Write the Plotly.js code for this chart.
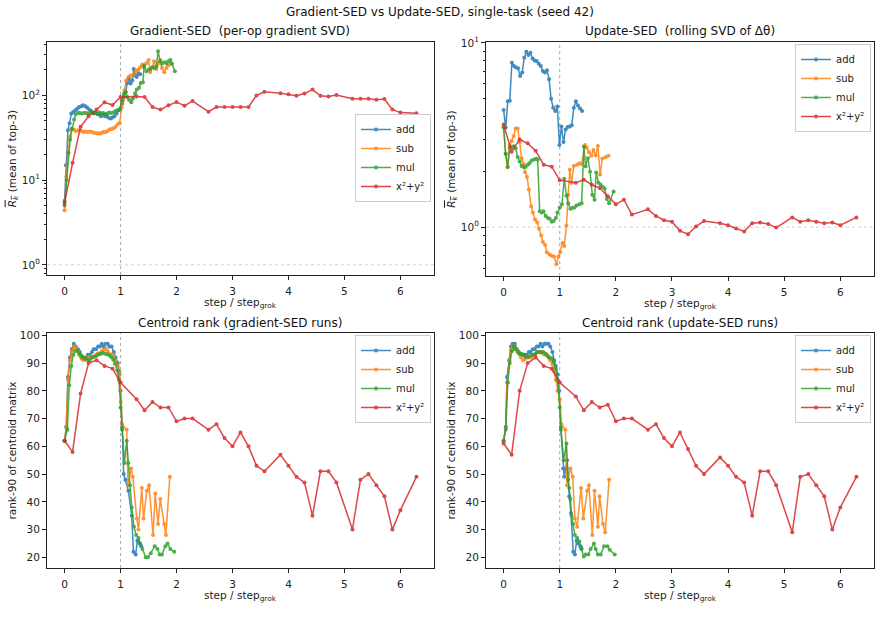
<!DOCTYPE html>
<html><head><meta charset="utf-8">
<script src="https://cdn.plot.ly/plotly-3.0.1.min.js"></script>
<style>body{margin:0;padding:0;background:#fff}#plot{width:881px;height:634px}</style>
</head><body><div id="plot"></div>
<script>
// ---------- data ----------
const SERIES_NAMES = ['add', 'sub', 'mul', 'x²+y²'];

// x²+y² (shared x for all panels)
const RED_X = [0,0.143,0.286,0.429,0.571,0.714,0.857,1.0,1.286,1.429,1.571,1.714,1.857,2.0,2.143,2.286,2.571,2.714,2.857,3.0,3.143,3.286,3.429,3.571,3.857,4.0,4.143,4.286,4.429,4.571,4.714,4.857,5.143,5.286,5.429,5.571,5.714,5.857,6.0,6.286];
const RED_GSED = [5.35,16.0,42.5,56.7,67.9,82.8,76.9,95.6,97.3,95.6,72.9,67.9,76.3,83.5,75.6,85.8,64.3,72.9,72.9,72.9,72.9,72.9,100,110,106,103,99,105,117,99,97,101,91.4,91.4,91.4,89,90.6,67.9,62.6,61.5];
const RED_USED = [3.61,2.57,2.99,2.85,2.6,2.18,2.13,1.80,1.74,1.81,1.70,1.63,1.47,1.33,1.41,1.17,1.25,1.15,1.09,1.07,0.955,0.916,1.01,1.08,1.05,1.025,0.984,0.948,1.05,1.06,1.04,0.995,1.13,1.07,1.09,1.07,1.05,1.06,1.025,1.13];
const RED_GRANK = [62,58,79,90,91,89,88,83,77,73,76,74,74,69,70,70,66,68,63,60,65,60,53,51,57,53,49,47,35,51,51,47,30,48,50,46,42,30,37,49];
const RED_URANK = [61,57,80,90,92,89,88,83,78,73,76,74,75,69,70,70,66,68,63,60,65,59,53,50,56,53,49,47,35,51,51,46,29,49,50,46,42,30,38,49];

// Panel 1: Gradient-SED
const ADD_GSED_X = [0,.024,.06,.09,.12,.155,.19,.226,.26,.3,.33,.37,.4,.44,.475,.51,.55,.58,.62,.65,.69,.72,.75,.78,.82,.855,.89,.93,.96,1.0,1.03,1.06,1.09,1.12,1.15,1.18,1.21,1.235,1.265,1.29,1.32,1.35];
const ADD_GSED_Y = [5.7,15,38.8,47,61,63.7,66.7,69.6,72.9,74.3,76.4,74.3,71.7,67.9,65.5,62,62,61,59.8,56.6,59.8,56.6,58,54.7,53.2,54.7,56.6,61,66.7,70,80,95,110,140,158,138,150,205,172,165,183,177];
const SUB_GSED_X = [0,.03,.06,.095,.13,.166,.2,.24,.27,.31,.34,.38,.415,.45,.49,.52,.56,.59,.63,.66,.7,.735,.77,.8,.84,.875,.91,.95,.985,1.02,1.045,1.07,1.1,1.14,1.175,1.21,1.25,1.28,1.32,1.35,1.39,1.42,1.46,1.5,1.53,1.57,1.6,1.64,1.67,1.71,1.74,1.78,1.82,1.85,1.89];
const SUB_GSED_Y = [4.4,11,20.6,32.4,40.6,39.5,38,38.8,38.5,38,37,37.5,37,37.5,37,36.1,36,35.5,35.5,36,37,37,38,39.5,40,41,42.5,45.7,47.3,73,87,115,150,164,172,170,180,196,200,215,231,215,240,262,188,215,253,205,236,262,211,188,211,225,236];
const MUL_GSED_X = [0,.036,.07,.1,.13,.17,.2,.24,.27,.31,.34,.38,.41,.45,.48,.52,.55,.59,.62,.66,.69,.73,.76,.8,.83,.87,.91,.95,.985,1.02,1.06,1.09,1.12,1.15,1.19,1.22,1.26,1.29,1.33,1.36,1.4,1.42,1.46,1.5,1.53,1.57,1.6,1.64,1.67,1.71,1.74,1.78,1.82,1.85,1.89,1.92,1.97];
const MUL_GSED_Y = [5,10,21,30,40,51.8,59.8,62,62,61,62,62,61,62,64,61,62,60,63,61,62,60,61,63,62,63,65.5,66.7,68,87,104,109,96,89,83,91,106,117,123,140,143,224,193,200,205,215,211,219,331,253,236,246,240,253,262,236,193];

// Panel 2: Update-SED
const ADD_USED_X = [0,.037,.074,.11,.147,.184,.221,.258,.294,.331,.368,.405,.442,.478,.515,.552,.589,.626,.662,.699,.736,.773,.81,.846,.883,.92,.957,.994,1.03,1.067,1.104,1.141,1.178,1.214,1.251,1.288,1.325,1.362,1.398];
const ADD_USED_Y = [4.33,3.47,4.82,4.86,7.81,7.5,7.35,7.28,6.62,6.9,8.3,8.95,8.59,8.84,8.24,8.04,7.97,7.71,7.5,7.05,6.9,7.1,6.35,4.97,4.45,4.27,4.52,2.79,3.52,2.9,3.39,3.5,3.52,3.57,4.45,4.82,4.57,4.4,4.27];
const SUB_USED_X = [0,.036,.071,.107,.143,.179,.214,.25,.286,.321,.357,.38,.417,.45,.49,.52,.56,.6,.63,.67,.7,.74,.77,.82,.857,.9,.94,.976,1.01,1.05,1.08,1.12,1.15,1.18,1.21,1.25,1.31,1.35,1.39,1.45,1.48,1.52,1.56,1.6,1.64,1.68,1.72,1.76,1.82,1.87];
const SUB_USED_Y = [3.5,2.5,2.12,2.79,2.94,3.12,3.43,3.43,2.9,2.37,2.2,1.99,1.88,1.6,1.3,1.2,1.1,1.06,0.98,0.9,0.83,0.8,0.73,0.71,0.70,0.69,0.63,0.69,0.73,0.82,0.79,1.02,1.5,2.05,1.74,2.15,2.18,2.22,2.2,2.79,2.7,2.55,2.44,2.62,2.45,2.76,1.93,2.36,2.4,2.44];
const MUL_USED_X = [0,.036,.071,.107,.143,.179,.214,.25,.286,.32,.357,.39,.43,.46,.5,.54,.58,.607,.643,.68,.71,.75,.79,.82,.86,.89,.93,.96,1.0,1.04,1.08,1.12,1.15,1.19,1.22,1.26,1.3,1.35,1.39,1.43,1.46,1.5,1.54,1.58,1.62,1.65,1.69,1.73,1.77,1.8,1.84,1.88,1.96];
const MUL_USED_Y = [3.47,2.5,2.12,2.7,2.72,2.75,2.68,2.4,2.27,2.15,2.12,2.12,2.18,2.22,2.3,2.33,2.35,2.33,1.22,1.2,1.22,1.15,1.12,1.11,1.07,1.08,1.12,1.2,1.28,1.33,1.83,1.48,1.35,1.26,1.27,1.28,1.31,1.33,1.35,2.73,2.14,2.37,2.0,1.5,1.41,1.98,1.74,1.7,1.65,1.62,1.42,1.35,1.56];

// Panel 3: Centroid rank (gradient-SED runs)
const ADD_GRANK_X = [0,.03,.06,.095,.13,.165,.2,.24,.27,.3,.34,.38,.415,.45,.49,.52,.56,.6,.63,.665,.7,.735,.77,.8,.84,.88,.91,.95,.975,1.0,1.03,1.056,1.086,1.14,1.2,1.23,1.27,1.3,1.34,1.37];
const ADD_GRANK_Y = [62,67,85,92,95,97,96,95,94,92,92,92,93,93,94,95,95,96,96,97,96,97,97,96,96,94,92,90,87,80,67,50,48,44,35,22,21,26,25,24];
const SUB_GRANK_X = [0,.03,.06,.095,.13,.165,.2,.24,.27,.31,.34,.38,.415,.45,.49,.52,.56,.59,.63,.665,.7,.735,.77,.8,.84,.875,.91,.95,.985,1.005,1.027,1.11,1.133,1.187,1.22,1.29,1.32,1.38,1.41,1.47,1.51,1.58,1.62,1.67,1.71,1.78,1.81,1.88];
const SUB_GRANK_Y = [62,67,84,91,94.4,96,95.8,94.4,92.8,91.6,91,91.6,92,92,92.2,92.4,92.8,93.4,93.6,94.4,94.8,95.2,94.4,93.2,93.2,92.4,91,89,86,76,68,66,46,52,49,34,30,45,34,44,46,28,43,32,41,32,28,49];
const MUL_GRANK_X = [0,.05,.083,.12,.155,.19,.226,.26,.3,.33,.37,.4,.44,.47,.51,.55,.58,.62,.65,.69,.72,.76,.8,.83,.87,.9,.94,.97,1.0,1.03,1.07,1.11,1.14,1.17,1.2,1.24,1.28,1.32,1.35,1.39,1.45,1.49,1.54,1.61,1.66,1.7,1.74,1.8,1.84,1.89,1.96];
const MUL_GRANK_Y = [62,66,82,89,93,94.4,94.4,93.4,92.8,92,91.6,91.2,91,91.6,92.2,92.4,92.8,93.2,93.4,93.6,93.4,93.2,92.8,92.2,91.2,89.8,87.4,84,74,66,54,62,54,46,38,31,28,27,25,23,20,20,21.5,24,23,21,21,24,25,23,22];

// Panel 4: Centroid rank (update-SED runs)
const ADD_URANK_X = [0,.036,.06,.1,.13,.16,.2,.24,.27,.3,.34,.38,.41,.45,.48,.52,.55,.59,.62,.66,.69,.73,.76,.8,.83,.87,.9,.93,.96,.99,1.02,1.06,1.08,1.11,1.13,1.17,1.2,1.24,1.27,1.3,1.33,1.37,1.39];
const ADD_URANK_Y = [62,66,85,91,96,97,97,95,94,93,93,93,93,94,94,95,95,96,96,97,96,97,97,97,96,94,91,89,86,80,67,52,49,52,55,42,36,22,21,26,25,24,23];
const SUB_URANK_X = [0,.036,.06,.1,.13,.16,.2,.23,.27,.31,.35,.38,.42,.45,.49,.52,.56,.59,.63,.66,.7,.73,.77,.8,.83,.87,.9,.93,.96,1.0,1.03,1.1,1.13,1.19,1.23,1.27,1.31,1.38,1.42,1.49,1.52,1.58,1.62,1.68,1.71,1.77,1.81,1.88];
const SUB_URANK_Y = [62,67,83,91,94.6,96,96,95,93.5,92,91,91.5,92,92,92,93,93,94,94,94,93.5,93,93,92,91,89.5,87,84,80,77,68,66,46,52,49,34,31,45,34,44,46,28,44,31,42,32,29,48];
const MUL_URANK_X = [0,.04,.075,.11,.15,.18,.21,.25,.29,.32,.36,.39,.43,.46,.5,.54,.57,.61,.64,.68,.71,.75,.79,.82,.86,.89,.93,.96,1.0,1.02,1.07,1.12,1.15,1.17,1.19,1.21,1.24,1.27,1.31,1.35,1.38,1.43,1.46,1.51,1.55,1.61,1.64,1.68,1.73,1.79,1.85,1.89,1.98];
const MUL_URANK_Y = [62,67,83,90,94.4,96,95,94,93.4,93.4,93,92.3,92.3,92.5,93,93,93.4,94,94,94,94,93.4,92.5,92,91.7,90.4,88,84,74,66,55,61,48,45,41,35,32,28,27,25.7,23.3,20.3,21,21,23,25,23,21,21,24,24,22.7,21];

const X_TICKS = [0,1,2,3,4,5,6];
const LOG_TICKVALS = [1,10,100];
const LOG_TICKTEXT = ['10<sup>0</sup>','10<sup>1</sup>','10<sup>2</sup>'];

// ---------- figure ----------
const FONT = 'DejaVu Sans';
const COLORS = ['#1f77b4','#ff7f0e','#2ca02c','#d62728'];
const W = 881, H = 634;

const panels = [
  {xs:[ADD_GSED_X,SUB_GSED_X,MUL_GSED_X,RED_X], ys:[ADD_GSED_Y,SUB_GSED_Y,MUL_GSED_Y,RED_GSED]},
  {xs:[ADD_USED_X,SUB_USED_X,MUL_USED_X,RED_X], ys:[ADD_USED_Y,SUB_USED_Y,MUL_USED_Y,RED_USED]},
  {xs:[ADD_GRANK_X,SUB_GRANK_X,MUL_GRANK_X,RED_X], ys:[ADD_GRANK_Y,SUB_GRANK_Y,MUL_GRANK_Y,RED_GRANK]},
  {xs:[ADD_URANK_X,SUB_URANK_X,MUL_URANK_X,RED_X], ys:[ADD_URANK_Y,SUB_URANK_Y,MUL_URANK_Y,RED_URANK]}
];

const traces = [];
panels.forEach((p, pi) => {
  const sfx = pi === 0 ? '' : String(pi + 1);
  for (let s = 0; s < 4; s++) {
    traces.push({
      type: 'scatter', mode: 'lines+markers',
      x: p.xs[s], y: p.ys[s], name: SERIES_NAMES[s],
      xaxis: 'x' + sfx, yaxis: 'y' + sfx,
      legend: 'legend' + sfx,
      line: {color: COLORS[s], width: 1.5},
      marker: {color: COLORS[s], size: 4},
      opacity: 0.85, showlegend: true
    });
  }
});

// pixel boxes of axes [left, right, top, bottom]
const boxes = [[47,434,42,275],[486,874,42,276],[47,434,333,568],[486,874,333,568]];

function minorLog(lo, hi) {
  const v = [];
  for (let d = -1; d <= 3; d++) for (let m = 2; m <= 9; m++) {
    const t = m * Math.pow(10, d);
    if (t > lo && t < hi) v.push(t);
  }
  return v;
}

const baseAxis = {
  showline: true, mirror: true, linecolor: '#222', linewidth: 1,
  ticks: 'outside', ticklen: 4, tickwidth: 1, tickcolor: '#222',
  showgrid: false, zeroline: false,
  tickfont: {family: FONT, size: 10.5, color: '#222'}
};

const layout = {
  width: W, height: H, margin: {l:0, r:0, t:0, b:0},
  paper_bgcolor: '#fff', plot_bgcolor: '#fff',
  font: {family: FONT, size: 10.5, color: '#222'},
  shapes: [], annotations: []
};

const yLogRanges = [[-0.12, 2.63], [-0.265, 1.005]];
const yTitles = [
  '<span style="text-decoration:overline"><i>R</i><sub><i>k</i></sub></span> (mean of top-3)',
  '<span style="text-decoration:overline"><i>R</i><sub><i>k</i></sub></span> (mean of top-3)',
  'rank-90 of centroid matrix', 'rank-90 of centroid matrix'
];

boxes.forEach((b, i) => {
  const sfx = i === 0 ? '' : String(i + 1);
  const xa = Object.assign({}, baseAxis, {
    domain: [b[0]/W, b[1]/W], anchor: 'y' + sfx,
    range: [-0.314, 6.6], tickmode: 'array', tickvals: X_TICKS,
    ticklabelstandoff: 2
  });
  let ya = Object.assign({}, baseAxis, {
    domain: [1 - b[3]/H, 1 - b[2]/H], anchor: 'x' + sfx,
    title: {text: yTitles[i], font: {family: FONT, size: 10.5, color:'#222'}}
  });
  if (i < 2) {
    const r = yLogRanges[i];
    Object.assign(ya, {
      type: 'log', range: r, tickmode: 'array',
      tickvals: LOG_TICKVALS, ticktext: LOG_TICKTEXT,
      minor: {tickmode: 'array', tickvals: minorLog(Math.pow(10, r[0]), Math.pow(10, r[1])),
              ticks: 'outside', ticklen: 2, tickcolor: '#222', showgrid: false}
    });
    layout.shapes.push({type:'line', xref:'x'+sfx+' domain', x0:0, x1:1, yref:'y'+sfx, y0:1, y1:1,
      line:{color:'rgba(128,128,128,0.45)', width:0.8, dash:'dot'}, layer:'below'});
  } else {
    Object.assign(ya, {range: [16.15, 100.85], tickmode: 'linear', tick0: 20, dtick: 10});
  }
  layout['xaxis' + sfx] = xa;
  layout['yaxis' + sfx] = ya;
  layout.shapes.push({type:'line', xref:'x'+sfx, x0:1, x1:1, yref:'y'+sfx+' domain', y0:0, y1:1,
    line:{color:'rgba(100,100,100,0.7)', width:0.8, dash:'dot'}, layer:'below'});
  // x-axis title placed as annotation under the tick labels
  layout.annotations.push({
    text: 'step / step<sub>grok</sub>', xref: 'paper', yref: 'paper',
    x: (b[0] + b[1]) / 2 / W, y: 1 - (b[3] + 28) / H, xanchor: 'center', yanchor: 'middle',
    showarrow: false, font: {family: FONT, size: 10.5, color: '#222'}
  });
});

// legends [anchor x px, anchor y px, xanchor, yanchor]
const legendPos = [[431,158,'right','middle'],[871,44,'right','top'],[431,335,'right','top'],[871,335,'right','top']];
legendPos.forEach((lp, i) => {
  const key = i === 0 ? 'legend' : 'legend' + (i + 1);
  layout[key] = {
    x: lp[0]/W, y: 1 - lp[1]/H, xanchor: lp[2], yanchor: lp[3],
    bgcolor: 'rgba(255,255,255,0.8)', bordercolor: '#cccccc', borderwidth: 1,
    font: {family: FONT, size: 10, color: '#222'}, itemwidth: 30, tracegroupgap: 0
  };
});

// titles
const titles = [
  ['Gradient-SED\u00a0 (per-op gradient SVD)', 240, 31],
  ['Update-SED\u00a0 (rolling SVD of Δθ)', 680, 31],
  ['Centroid rank (gradient-SED runs)', 240, 323],
  ['Centroid rank (update-SED runs)', 680, 323]
];
titles.forEach(t => layout.annotations.push({
  text: t[0], xref: 'paper', yref: 'paper', x: t[1]/W, y: 1 - t[2]/H,
  xanchor: 'center', yanchor: 'middle', showarrow: false,
  font: {family: FONT, size: 12, color: '#111'}
}));
layout.annotations.push({
  text: 'Gradient-SED vs Update-SED, single-task (seed 42)', xref: 'paper', yref: 'paper',
  x: 440/W, y: 1 - 12/H, xanchor: 'center', yanchor: 'middle', showarrow: false,
  font: {family: FONT, size: 12, color: '#111'}
});

Plotly.newPlot('plot', traces, layout, {staticPlot: true, displayModeBar: false});
</script>
</body></html>
